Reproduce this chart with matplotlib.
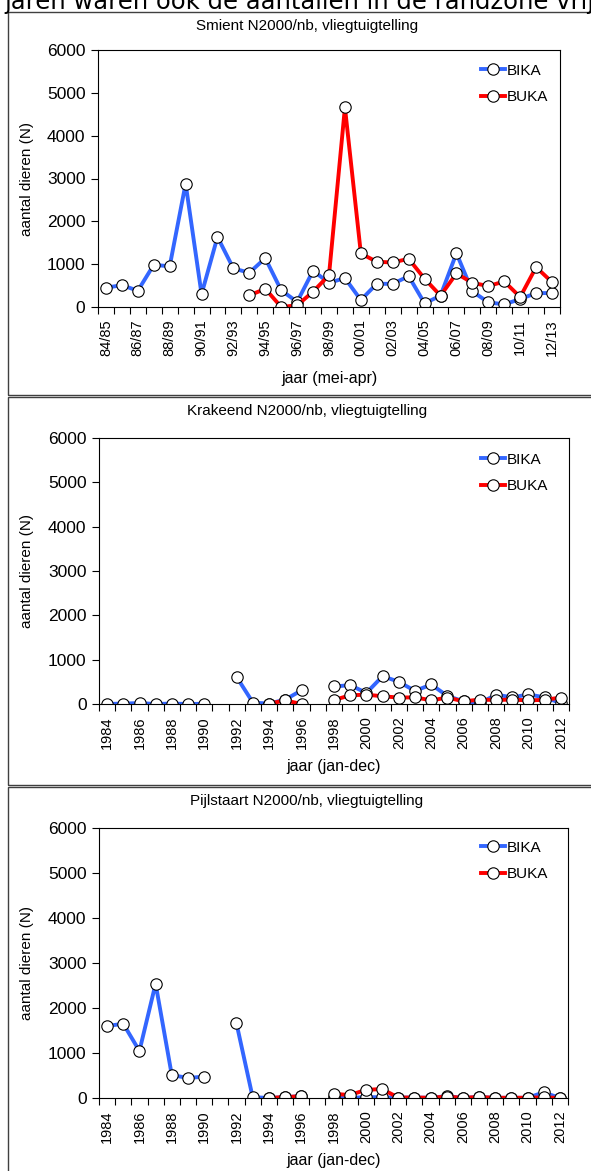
import matplotlib
matplotlib.use('Agg')
import matplotlib.pyplot as plt
from matplotlib.patches import Rectangle
import numpy as np

plt.rcParams['font.family'] = ['Liberation Sans', 'DejaVu Sans']

BLUE = '#3366ff'
RED = '#ff0000'

# Smient: seizoenen mei-apr, 84/85 .. 12/13
seasons = ['{:02d}/{:02d}'.format(y % 100, (y + 1) % 100) for y in range(1984, 2013)]
smient_bika = [450, 510, 380, 985, 950, 2880, 300, 1635, 900, 800, 1140, 390, 120, 845,
               565, 675, 163, 543, 540, 720, 85, 265, 1255, 365, 108, 62, 185, 325, 325]
smient_buka = [None, None, None, None, None, None, None, None, None, 270, 425, 0, 40, 357,
               745, 4660, 1250, 1055, 1040, 1125, 660, 265, 783, 565, 488, 597, 232, 930, 580]

# Krakeend en Pijlstaart: jaren jan-dec, 1984 .. 2012
years = [str(y) for y in range(1984, 2013)]
krakeend_bika = [0, 10, 20, 0, 10, 0, 5, None, 605, 30, 10, 100, 310, None,
                 395, 425, 250, 628, 500, 295, 440, 180, 60, 20, 210, 150, 215, 150, 20]
krakeend_buka = [None, None, None, None, None, None, None, None, None, None, 10, 80, 0, None,
                 90, 197, 210, 175, 145, 150, 83, 145, 60, 100, 90, 100, 80, 95, 145]
pijlstaart_bika = [1600, 1650, 1045, 2540, 510, 445, 475, None, 1660, 20, 0, 20, 40, None,
                   20, 0, 20, 15, 10, 10, 5, 40, 5, 20, 5, 5, 5, 125, 0]
pijlstaart_buka = [None, None, None, None, None, None, None, None, None, None, 0, 20, 40, None,
                   95, 65, 180, 200, 10, 10, 5, 30, 5, 20, 5, 5, 5, 15, 0]

W, H = 591, 1171
fig = plt.figure(figsize=(W / 100, H / 100), dpi=100)


def fx(px):
    return px / W


def fy(py):
    return 1 - py / H


def to_arr(vals):
    return np.array([np.nan if v is None else v for v in vals], dtype=float)


def panel(box, axbox, title, labels, bika, buka, xlabel, leg_y, xlab_y):
    bx0, by0, bx1, by1 = box
    fig.add_artist(Rectangle((fx(bx0), fy(by1)), fx(bx1 - bx0), (by1 - by0) / H,
                             transform=fig.transFigure, fill=False,
                             edgecolor='#404040', lw=1.0))
    l, t, r, b = axbox
    ax = fig.add_axes([fx(l), fy(b), fx(r - l), (b - t) / H])
    x = np.arange(len(labels))
    mk = dict(marker='o', markersize=8.2, markerfacecolor='white',
              markeredgecolor='black', markeredgewidth=0.8, lw=2.8)
    ax.plot(x, to_arr(bika), color=BLUE, label='BIKA', **mk)
    ax.plot(x, to_arr(buka), color=RED, label='BUKA', **mk)
    ax.set_xlim(-0.5, len(labels) - 0.5)
    ax.set_ylim(0, 6000)
    ax.set_yticks(range(0, 6001, 1000))
    ax.set_xticks(x[::2])
    ax.set_xticklabels(labels[::2], rotation=90, fontsize=10.5)
    ax.set_xticks(np.arange(-0.5, len(labels), 1), minor=True)
    ax.tick_params(axis='x', which='major', length=0, pad=9)
    ax.tick_params(axis='x', which='minor', length=5, direction='out', width=0.8)
    ax.tick_params(axis='y', length=5, direction='out', width=0.8, labelsize=12.5, pad=4)
    for s in ax.spines.values():
        s.set_linewidth(0.8)
    ax.set_ylabel('aantal dieren (N)', fontsize=11)
    ax.yaxis.set_label_coords((27 - l) / (r - l), 0.5)
    ax.set_xlabel(xlabel, fontsize=11.5)
    ax.xaxis.set_label_coords(0.5, (b - xlab_y) / (b - t))
    ax.xaxis.label.set_va('center')
    ax.yaxis.label.set_va('center')
    fig.text(fx(307), fy(by0 + 14), title, ha='center', va='center', fontsize=11)
    ax.legend(loc='upper left', bbox_to_anchor=(fx(473), fy(leg_y)),
              bbox_transform=fig.transFigure, frameon=False, fontsize=11,
              handlelength=1.6, handletextpad=0.1, labelspacing=0.8, borderpad=0)
    return ax


panel((8, 12, 600, 395), (98, 50, 560, 307), 'Smient N2000/nb, vliegtuigtelling',
      seasons, smient_bika, smient_buka, 'jaar (mei-apr)', 56, 378)
panel((8, 397, 600, 785), (99, 438, 569, 704), 'Krakeend N2000/nb, vliegtuigtelling',
      years, krakeend_bika, krakeend_buka, 'jaar (jan-dec)', 445, 767)
panel((8, 787, 600, 1180), (99, 828, 568, 1098), 'Pijlstaart N2000/nb, vliegtuigtelling',
      years, pijlstaart_bika, pijlstaart_buka, 'jaar (jan-dec)', 833, 1160)

fig.text(fx(4), fy(9), 'jaren waren ook de aantallen in de randzone vrij', fontsize=17.5,
         family='DejaVu Sans', va='baseline', ha='left')

fig.savefig('out.png', dpi=100)
